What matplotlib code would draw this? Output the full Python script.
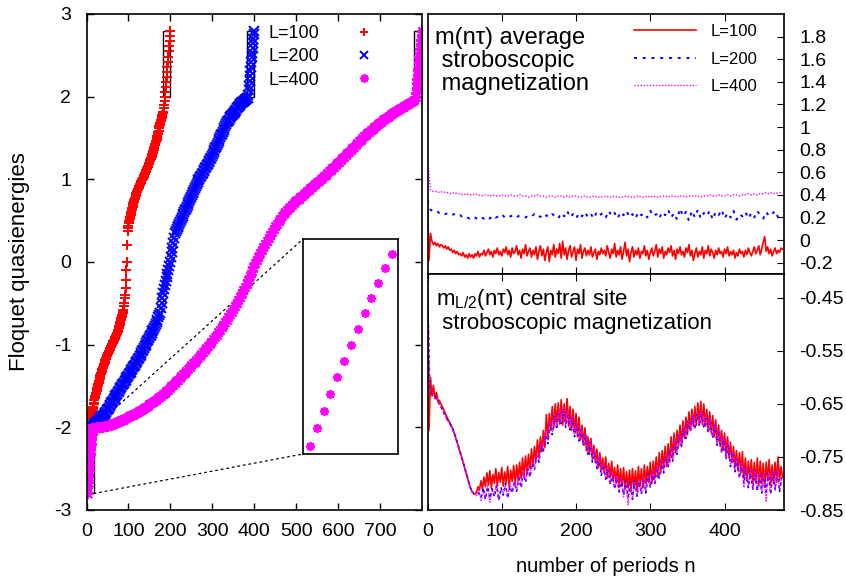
import numpy as np
import matplotlib
matplotlib.use("Agg")
import matplotlib.pyplot as plt
from matplotlib.patches import Rectangle, ConnectionPatch

plt.rcParams['font.family'] = ['Liberation Sans', 'DejaVu Sans']
plt.rcParams['mathtext.fontset'] = 'custom'
plt.rcParams['mathtext.rm'] = 'Liberation Sans'
plt.rcParams['mathtext.it'] = 'Liberation Sans'
plt.rcParams['axes.unicode_minus'] = False

W, H = 846, 579
RED, BLUE, MAGENTA = '#ff0000', '#0000ff', '#ff00ff'

# --- Floquet quasienergies (sorted), split in lower edge block, bulk, upper edge block
# L=100: 200 levels, bulk every level
q100_low = [-2.80, -2.69, -2.58, -2.47, -2.36, -2.25, -2.14, -2.04]
q100_bulk = [
    -1.93, -1.90, -1.88, -1.85, -1.83, -1.80, -1.78, -1.75, -1.72, -1.70, -1.67, -1.64,
    -1.62, -1.60, -1.58, -1.56, -1.54, -1.52, -1.50, -1.48, -1.46, -1.44, -1.41, -1.39,
    -1.37, -1.36, -1.34, -1.33, -1.31, -1.30, -1.28, -1.27, -1.25, -1.23, -1.22, -1.20,
    -1.19, -1.17, -1.16, -1.14,
    -1.13, -1.12, -1.11, -1.10, -1.09, -1.08, -1.06, -1.05, -1.04, -1.03, -1.02, -1.01,
    -0.99, -0.98, -0.97, -0.96,
    -0.95, -0.94, -0.93, -0.92, -0.91, -0.89, -0.88, -0.87, -0.86, -0.85, -0.83, -0.82,
    -0.80, -0.78, -0.76, -0.74, -0.72, -0.70, -0.68, -0.66, -0.64, -0.62, -0.60, -0.58,
    -0.53, -0.49, -0.44, -0.40, -0.31, -0.22, -0.10, 0.00, 0.20, 0.38,
    0.41, 0.44, 0.47, 0.50, 0.52, 0.55,
    0.57, 0.59, 0.61, 0.63, 0.65, 0.67, 0.69, 0.71,
    0.73, 0.75, 0.76, 0.78, 0.80, 0.81, 0.83, 0.85,
    0.86, 0.87, 0.88, 0.89, 0.91, 0.92, 0.93, 0.94, 0.95, 0.96, 0.98,
    0.99, 1.00, 1.01, 1.02, 1.03, 1.04, 1.05, 1.06, 1.08, 1.09, 1.10, 1.11,
    1.12, 1.14, 1.15, 1.16, 1.18, 1.19, 1.20, 1.22, 1.23, 1.24, 1.26, 1.27,
    1.29, 1.31, 1.32, 1.34, 1.36, 1.38, 1.39, 1.41, 1.43, 1.45, 1.46, 1.48,
    1.50, 1.53, 1.55, 1.57, 1.59, 1.62, 1.64, 1.66,
    1.68, 1.70, 1.72, 1.74, 1.76, 1.78, 1.80, 1.82,
    1.86, 1.90, 1.95]
q100_high = [2.00, 2.06, 2.12, 2.18, 2.24, 2.30, 2.36, 2.42, 2.48, 2.55, 2.61, 2.67, 2.73, 2.79]

# L=200: 400 levels, bulk every 2nd level
q200_low = [-2.80, -2.73, -2.66, -2.59, -2.52, -2.45, -2.38, -2.31, -2.24, -2.17, -2.10, -2.04]
q200_bulk = [
    -2.000, -1.989, -1.978, -1.967, -1.956, -1.945, -1.934, -1.923, -1.912, -1.901,
    -1.890, -1.879, -1.868, -1.857, -1.846, -1.835, -1.825, -1.812, -1.795, -1.778,
    -1.761, -1.744, -1.727, -1.710, -1.693, -1.676, -1.659, -1.642, -1.625, -1.608,
    -1.591, -1.575, -1.558, -1.542, -1.525, -1.508, -1.492, -1.475, -1.458, -1.442,
    -1.425, -1.408, -1.392, -1.375, -1.358, -1.342, -1.325, -1.308, -1.292, -1.275,
    -1.258, -1.242, -1.225, -1.208, -1.192, -1.175, -1.158, -1.140, -1.120, -1.100,
    -1.080, -1.060, -1.040, -1.020, -1.000, -0.980, -0.960, -0.940, -0.920, -0.900,
    -0.880, -0.860, -0.840, -0.820, -0.797, -0.772, -0.746, -0.721, -0.696, -0.670,
    -0.645, -0.620, -0.560, -0.500, -0.440, -0.380, -0.327, -0.280, -0.234, -0.187,
    -0.140, -0.093, -0.047, 0.000, 0.058, 0.117, 0.175, 0.233, 0.292, 0.350,
    0.373, 0.396, 0.419, 0.441, 0.464, 0.487, 0.510, 0.533, 0.556, 0.578,
    0.601, 0.624, 0.647, 0.670, 0.692, 0.715, 0.738, 0.761, 0.784, 0.807,
    0.829, 0.852, 0.875, 0.898, 0.921, 0.943, 0.966, 0.989, 1.009, 1.027,
    1.045, 1.062, 1.080, 1.098, 1.116, 1.133, 1.151, 1.169, 1.187, 1.204,
    1.222, 1.240, 1.262, 1.285, 1.307, 1.330, 1.352, 1.374, 1.397, 1.419,
    1.442, 1.464, 1.486, 1.509, 1.531, 1.554, 1.576, 1.598, 1.621, 1.643,
    1.666, 1.688, 1.710, 1.723, 1.737, 1.750, 1.763, 1.777, 1.790, 1.803,
    1.817, 1.830, 1.843, 1.857, 1.870, 1.883, 1.897, 1.910, 1.923, 1.932,
    1.940, 1.948, 1.956, 1.964, 1.972, 1.980, 1.988]
q200_high = [2.02, 2.08, 2.13, 2.19, 2.25, 2.31, 2.36, 2.42, 2.48, 2.53, 2.59, 2.65, 2.70, 2.76, 2.80]

# L=400: 800 levels, bulk every 4th level
q400_low = [-2.800, -2.727, -2.658, -2.589, -2.520, -2.455, -2.390,
            -2.325, -2.260, -2.199, -2.138, -2.077, -2.020]
q400_bulk = [
    -2.010, -2.007, -2.004, -2.001, -1.999, -1.996, -1.992, -1.988, -1.984, -1.979,
    -1.973, -1.967, -1.960, -1.953, -1.945, -1.936, -1.927, -1.917, -1.907, -1.896,
    -1.885, -1.875, -1.865, -1.855, -1.845, -1.834, -1.823, -1.811, -1.798, -1.786,
    -1.774, -1.762, -1.749, -1.736, -1.723, -1.709, -1.694, -1.679, -1.664, -1.648,
    -1.632, -1.615, -1.598, -1.581, -1.563, -1.544, -1.525, -1.505, -1.485, -1.465,
    -1.444, -1.424, -1.403, -1.381, -1.360, -1.339, -1.317, -1.295, -1.272, -1.250,
    -1.227, -1.205, -1.182, -1.158, -1.135, -1.112, -1.088, -1.064, -1.040, -1.015,
    -0.990, -0.964, -0.937, -0.909, -0.880, -0.850, -0.820, -0.790, -0.760, -0.729,
    -0.698, -0.667, -0.635, -0.603, -0.570, -0.533, -0.496, -0.459, -0.420, -0.380,
    -0.340, -0.300, -0.261, -0.219, -0.166, -0.114, -0.063, -0.017, 0.028, 0.066,
    0.104, 0.141, 0.180, 0.220, 0.258, 0.295, 0.329, 0.364, 0.398, 0.431,
    0.462, 0.494, 0.525, 0.554, 0.581, 0.604, 0.627, 0.649, 0.671, 0.693,
    0.712, 0.732, 0.750, 0.768, 0.786, 0.803, 0.820, 0.838, 0.855, 0.873,
    0.891, 0.909, 0.928, 0.946, 0.964, 0.983, 1.001, 1.019, 1.038, 1.058,
    1.077, 1.096, 1.115, 1.135, 1.155, 1.175, 1.195, 1.215, 1.235, 1.255,
    1.275, 1.295, 1.315, 1.335, 1.355, 1.376, 1.397, 1.418, 1.439, 1.460,
    1.480, 1.500, 1.520, 1.540, 1.559, 1.577, 1.595, 1.613, 1.631, 1.648,
    1.664, 1.681, 1.698, 1.713, 1.728, 1.743, 1.757, 1.772, 1.786, 1.800,
    1.814, 1.827, 1.840, 1.853, 1.866, 1.879, 1.891, 1.902, 1.914, 1.925,
    1.936, 1.948, 1.959]
q400_high = [2.00, 2.05, 2.10, 2.16, 2.21, 2.26, 2.32, 2.37,
             2.42, 2.48, 2.53, 2.58, 2.64, 2.69, 2.74, 2.80]

# --- average stroboscopic magnetization m(n tau)
avg_L100 = [  # every 2nd period
    0.35, -0.18, 0.06, -0.01, -0.04, -0.02, -0.05, -0.03, -0.06, -0.04,
    -0.05, -0.07, -0.05, -0.08, -0.06, -0.09, -0.08, -0.11, -0.09, -0.12,
    -0.10, -0.13, -0.12, -0.14, -0.11, -0.15, -0.13, -0.16, -0.12, -0.15,
    -0.13, -0.16, -0.12, -0.14, -0.10, -0.15, -0.12, -0.13, -0.09, -0.14,
    -0.11, -0.08, -0.13, -0.10, -0.15, -0.09, -0.12, -0.07, -0.13, -0.10,
    -0.14, -0.08, -0.11, -0.06, -0.13, -0.09, -0.15, -0.07, -0.12, -0.10,
    -0.05, -0.13, -0.09, -0.16, -0.08, -0.12, -0.04, -0.14, -0.10, -0.07,
    -0.15, -0.09, -0.13, -0.06, -0.17, -0.10, -0.05, -0.14, -0.08, -0.18,
    -0.11, -0.06, -0.19, -0.09, -0.13, -0.04, -0.15, -0.08, -0.12, -0.03,
    -0.16, -0.01, -0.13, -0.07, -0.17, -0.09, -0.05, -0.15, -0.10, -0.06,
    -0.18, -0.08, -0.12, -0.04, -0.16, -0.10, -0.07, -0.14, -0.09, -0.13,
    -0.06, -0.15, -0.11, -0.08, -0.17, -0.10, -0.13, -0.07, -0.12, -0.09,
    -0.14, -0.05, -0.11, -0.16, -0.08, -0.12, -0.03, -0.15, -0.09, -0.13,
    -0.06, -0.17, -0.10, -0.02, -0.14, -0.08, -0.19, -0.11, -0.06, -0.15,
    -0.09, -0.13, -0.07, -0.16, -0.10, -0.12, -0.05, -0.14, -0.09, -0.17,
    -0.11, -0.07, -0.14, -0.10, -0.04, -0.15, -0.08, -0.12, -0.06, -0.16,
    -0.10, -0.13, -0.07, -0.11, -0.05, -0.14, -0.09, -0.17, -0.08, -0.12,
    -0.06, -0.13, -0.10, -0.15, -0.07, -0.11, -0.04, -0.14, -0.09, -0.18,
    -0.12, -0.07, -0.15, -0.10, -0.13, -0.06, -0.16, -0.09, -0.12, -0.05,
    -0.14, -0.08, -0.11, -0.16, -0.09, -0.13, -0.07, -0.12, -0.10, -0.15,
    -0.08, -0.12, -0.06, -0.14, -0.10, -0.13, -0.09, -0.16, -0.11, -0.14,
    -0.08, -0.12, -0.10, -0.15, -0.09, -0.13, -0.07, -0.11, -0.14, -0.10,
    -0.06, -0.12, -0.09, -0.05, -0.13, -0.08, -0.02, 0.03, -0.10, -0.06,
    -0.12, -0.08, -0.14, -0.10, -0.07, -0.12, -0.09, -0.11, -0.07, -0.08]
avg_L200 = [  # every 4th period
    0.35, 0.27, 0.25, 0.26, 0.24, 0.25, 0.23, 0.24, 0.22, 0.23,
    0.21, 0.22, 0.20, 0.21, 0.19, 0.21, 0.20, 0.18, 0.20, 0.19,
    0.21, 0.19, 0.22, 0.20, 0.21, 0.23, 0.20, 0.22, 0.21, 0.22,
    0.20, 0.22, 0.21, 0.20, 0.22, 0.21, 0.23, 0.20, 0.21, 0.19,
    0.22, 0.20, 0.23, 0.21, 0.19, 0.24, 0.21, 0.26, 0.20, 0.23,
    0.19, 0.24, 0.21, 0.25, 0.20, 0.23, 0.19, 0.25, 0.22, 0.24,
    0.20, 0.26, 0.21, 0.24, 0.19, 0.25, 0.22, 0.26, 0.20, 0.23,
    0.19, 0.25, 0.22, 0.24, 0.20, 0.26, 0.21, 0.23, 0.19, 0.25,
    0.22, 0.27, 0.20, 0.24, 0.18, 0.28, 0.21, 0.25, 0.17, 0.26,
    0.20, 0.27, 0.19, 0.24, 0.21, 0.26, 0.18, 0.25, 0.22, 0.27,
    0.19, 0.24, 0.20, 0.26, 0.18, 0.23, 0.21, 0.25, 0.19, 0.24,
    0.20, 0.26, 0.22, 0.19, 0.25, 0.21, 0.23, 0.26, 0.20, 0.22]
avg_L400 = [  # every 4th period
    0.72, 0.44, 0.43, 0.43, 0.42, 0.43, 0.42, 0.42, 0.41, 0.42,
    0.41, 0.41, 0.40, 0.41, 0.40, 0.40, 0.41, 0.40, 0.39, 0.40,
    0.40, 0.39, 0.40, 0.39, 0.39, 0.40, 0.39, 0.39, 0.40, 0.39,
    0.39, 0.40, 0.39, 0.39, 0.38, 0.39, 0.39, 0.40, 0.39, 0.39,
    0.38, 0.39, 0.39, 0.38, 0.39, 0.39, 0.38, 0.39, 0.38, 0.39,
    0.39, 0.38, 0.38, 0.39, 0.38, 0.38, 0.39, 0.38, 0.38, 0.38,
    0.39, 0.38, 0.38, 0.39, 0.38, 0.38, 0.38, 0.39, 0.38, 0.38,
    0.38, 0.39, 0.38, 0.38, 0.39, 0.38, 0.39, 0.38, 0.38, 0.39,
    0.39, 0.38, 0.39, 0.39, 0.38, 0.39, 0.39, 0.38, 0.39, 0.39,
    0.39, 0.39, 0.38, 0.39, 0.39, 0.40, 0.39, 0.39, 0.40, 0.39,
    0.39, 0.40, 0.39, 0.40, 0.40, 0.39, 0.40, 0.40, 0.41, 0.40,
    0.41, 0.40, 0.41, 0.41, 0.42, 0.41, 0.42, 0.41, 0.42, 0.42]

# --- central site stroboscopic magnetization m_{L/2}(n tau)
mid_L100 = [  # every 2nd period
    -0.420, -0.700, -0.600, -0.635, -0.615, -0.640, -0.628, -0.645, -0.643, -0.650,
    -0.655, -0.662, -0.668, -0.674, -0.680, -0.686, -0.691, -0.697, -0.705, -0.714,
    -0.723, -0.732, -0.741, -0.750, -0.760, -0.770, -0.780, -0.790, -0.800, -0.809,
    -0.815, -0.819, -0.820, -0.816, -0.806, -0.812, -0.795, -0.810, -0.788, -0.806,
    -0.780, -0.803, -0.776, -0.809, -0.783, -0.800, -0.772, -0.806, -0.779, -0.798,
    -0.770, -0.805, -0.778, -0.799, -0.768, -0.807, -0.775, -0.796, -0.766, -0.801,
    -0.765, -0.795, -0.760, -0.790, -0.752, -0.787, -0.748, -0.780, -0.745, -0.772,
    -0.735, -0.768, -0.730, -0.757, -0.718, -0.750, -0.712, -0.740, -0.700, -0.732,
    -0.670, -0.715, -0.668, -0.700, -0.655, -0.695, -0.650, -0.690, -0.648, -0.688,
    -0.642, -0.690, -0.650, -0.685, -0.640, -0.692, -0.655, -0.700, -0.660, -0.705,
    -0.668, -0.712, -0.675, -0.718, -0.690, -0.728, -0.695, -0.738, -0.712, -0.745,
    -0.715, -0.752, -0.728, -0.760, -0.735, -0.770, -0.742, -0.775, -0.752, -0.780,
    -0.750, -0.790, -0.762, -0.788, -0.758, -0.796, -0.770, -0.800, -0.765, -0.805,
    -0.772, -0.806, -0.770, -0.812, -0.778, -0.808, -0.775, -0.815, -0.772, -0.810,
    -0.776, -0.812, -0.768, -0.806, -0.772, -0.808, -0.765, -0.800, -0.768, -0.798,
    -0.760, -0.800, -0.758, -0.790, -0.750, -0.788, -0.742, -0.780, -0.738, -0.770,
    -0.730, -0.768, -0.725, -0.760, -0.712, -0.752, -0.705, -0.742, -0.700, -0.730,
    -0.690, -0.728, -0.682, -0.715, -0.675, -0.708, -0.665, -0.700, -0.660, -0.692,
    -0.655, -0.690, -0.648, -0.685, -0.645, -0.688, -0.650, -0.692, -0.660, -0.700,
    -0.665, -0.705, -0.672, -0.712, -0.680, -0.722, -0.690, -0.730, -0.700, -0.738,
    -0.705, -0.745, -0.712, -0.752, -0.722, -0.760, -0.730, -0.768, -0.738, -0.775,
    -0.742, -0.780, -0.740, -0.790, -0.752, -0.795, -0.758, -0.792, -0.755, -0.800,
    -0.760, -0.798, -0.752, -0.805, -0.758, -0.800, -0.762, -0.808, -0.760, -0.795,
    -0.755, -0.802, -0.765, -0.800, -0.760, -0.798, -0.750, -0.795, -0.768, -0.788]
mid_L200 = [  # every 3rd period
    -0.420, -0.620, -0.630, -0.632, -0.640, -0.648, -0.655, -0.664, -0.672, -0.681,
    -0.686, -0.694, -0.705, -0.718, -0.732, -0.746, -0.760, -0.775, -0.790, -0.805,
    -0.815, -0.820, -0.821, -0.818, -0.826, -0.808, -0.830, -0.806, -0.828, -0.810,
    -0.825, -0.804, -0.832, -0.808, -0.822, -0.800, -0.828, -0.806, -0.818, -0.798,
    -0.815, -0.790, -0.808, -0.780, -0.798, -0.772, -0.788, -0.762, -0.774, -0.748,
    -0.760, -0.730, -0.740, -0.708, -0.725, -0.688, -0.708, -0.672, -0.698, -0.665,
    -0.690, -0.660, -0.694, -0.668, -0.702, -0.675, -0.712, -0.688, -0.720, -0.698,
    -0.730, -0.708, -0.745, -0.722, -0.760, -0.738, -0.772, -0.752, -0.785, -0.765,
    -0.792, -0.772, -0.802, -0.782, -0.810, -0.788, -0.816, -0.792, -0.822, -0.795,
    -0.826, -0.798, -0.830, -0.792, -0.824, -0.796, -0.820, -0.790, -0.818, -0.782,
    -0.808, -0.778, -0.800, -0.770, -0.790, -0.758, -0.780, -0.748, -0.770, -0.735,
    -0.758, -0.722, -0.745, -0.708, -0.730, -0.695, -0.715, -0.682, -0.702, -0.672,
    -0.698, -0.668, -0.692, -0.665, -0.696, -0.672, -0.705, -0.680, -0.715, -0.690,
    -0.728, -0.700, -0.742, -0.712, -0.755, -0.725, -0.768, -0.740, -0.778, -0.752,
    -0.790, -0.762, -0.800, -0.770, -0.808, -0.775, -0.812, -0.778, -0.815, -0.780,
    -0.818, -0.782, -0.816, -0.780, -0.820, -0.778, -0.812, -0.776, -0.815, -0.790]
mid_L400 = [  # every 3rd period
    -0.420, -0.625, -0.628, -0.636, -0.641, -0.648, -0.656, -0.665, -0.673, -0.682,
    -0.688, -0.696, -0.707, -0.720, -0.734, -0.748, -0.762, -0.777, -0.792, -0.806,
    -0.816, -0.821, -0.823, -0.812, -0.832, -0.815, -0.826, -0.804, -0.835, -0.812,
    -0.820, -0.800, -0.830, -0.812, -0.818, -0.803, -0.825, -0.800, -0.815, -0.795,
    -0.812, -0.785, -0.805, -0.776, -0.795, -0.768, -0.785, -0.758, -0.771, -0.745,
    -0.755, -0.725, -0.735, -0.700, -0.718, -0.682, -0.702, -0.668, -0.692, -0.662,
    -0.686, -0.655, -0.690, -0.662, -0.698, -0.672, -0.708, -0.685, -0.718, -0.695,
    -0.728, -0.705, -0.742, -0.718, -0.756, -0.735, -0.770, -0.748, -0.782, -0.762,
    -0.790, -0.768, -0.800, -0.778, -0.808, -0.785, -0.815, -0.790, -0.825, -0.798,
    -0.840, -0.800, -0.828, -0.796, -0.822, -0.792, -0.818, -0.788, -0.815, -0.785,
    -0.805, -0.775, -0.798, -0.765, -0.786, -0.755, -0.776, -0.745, -0.766, -0.732,
    -0.755, -0.718, -0.742, -0.705, -0.726, -0.692, -0.712, -0.680, -0.700, -0.670,
    -0.695, -0.665, -0.690, -0.662, -0.692, -0.670, -0.702, -0.678, -0.712, -0.688,
    -0.725, -0.698, -0.738, -0.710, -0.752, -0.722, -0.765, -0.738, -0.775, -0.750,
    -0.788, -0.760, -0.808, -0.768, -0.805, -0.772, -0.810, -0.776, -0.812, -0.778,
    -0.815, -0.780, -0.835, -0.778, -0.818, -0.776, -0.810, -0.775, -0.812, -0.788]

avg_ticks = [-0.2, 0, 0.2, 0.4, 0.6, 0.8, 1, 1.2, 1.4, 1.6, 1.8]
mid_ticks = [-0.85, -0.75, -0.65, -0.55, -0.45]

# boxes around the edge levels, and the zoomed lower-left block
edge_width = 18
edge_low = (-2.8, -2.0)
edge_high = (2.0, 2.8)


def px_rect(left, top, right, bottom):
    """Figure-fraction rectangle from pixel edges measured from the top-left."""
    return [left / W, 1 - bottom / H, (right - left) / W, (bottom - top) / H]


def level_index(n_levels, low, bulk, high, step):
    """Level numbers for the edge blocks and the sampled bulk of a spectrum."""
    x_low = np.arange(1, len(low) + 1)
    x_bulk = len(low) + 1 + step * np.arange(len(bulk))
    x_high = np.arange(n_levels - len(high) + 1, n_levels + 1)
    return np.concatenate([x_low, x_bulk, x_high]), np.concatenate([low, bulk, high])


def frame(ax):
    for s in ax.spines.values():
        s.set_linewidth(1.2)


fig = plt.figure(figsize=(W / 100, H / 100), dpi=100)
ax_q = fig.add_axes(px_rect(86.5, 14, 422, 510))
ax_avg = fig.add_axes(px_rect(427.5, 14, 784, 274))
ax_mid = fig.add_axes(px_rect(427.5, 274, 784, 510))
ax_in = fig.add_axes(px_rect(303, 239, 398, 454))

# ---------------- quasienergy spectra
spectra = [
    (200, q100_low, q100_bulk, q100_high, 1, RED, '+', 7.0, 'L=100'),
    (400, q200_low, q200_bulk, q200_high, 2, BLUE, 'x', 7.0, 'L=200'),
    (800, q400_low, q400_bulk, q400_high, 4, MAGENTA, (8, 2, 0), 8.0, 'L=400'),
]
handles = []
for n_levels, low, bulk, high, step, color, marker, ms, label in spectra:
    x, y = level_index(n_levels, low, bulk, high, step)
    h, = ax_q.plot(x, y, ls='none', marker=marker, ms=ms, mew=1.4, color=color, label=label)
    handles.append(h)
    ax_q.add_patch(Rectangle((n_levels - edge_width, edge_high[0]), edge_width,
                             edge_high[1] - edge_high[0], fill=False, ec='black', lw=1.0))

ax_q.add_patch(Rectangle((0, edge_low[0]), edge_width, edge_low[1] - edge_low[0],
                         fill=False, ec='black', lw=1.0))

ax_q.set_xlim(0, 800)
ax_q.set_ylim(-3, 3)
ax_q.set_xticks(range(0, 701, 100))
ax_q.set_yticks(range(-3, 4))
ax_q.tick_params(direction='in', length=5, width=1, top=True, right=True, labelsize=14)
ax_q.tick_params(axis='y', pad=11)
ax_q.tick_params(axis='x', pad=9)
frame(ax_q)
leg = ax_q.legend(handles=handles, loc='upper left', bbox_to_anchor=(268 / W, 1 - 25 / H),
                  bbox_transform=fig.transFigure, frameon=False, markerfirst=False,
                  fontsize=13, handlelength=3.0, handletextpad=1.0, labelspacing=0.35,
                  borderpad=0, borderaxespad=0, markerscale=0.75)

# zoom on the lowest L=400 levels
ax_in.plot(np.arange(1, len(q400_low) + 1), q400_low, ls='none', marker=(8, 2, 0),
           ms=6.5, mew=1.3, color=MAGENTA)
ax_in.set_xlim(0, 13.9)
ax_in.set_ylim(-2.8325, -1.959)
ax_in.set_xticks([])
ax_in.set_yticks([])
frame(ax_in)
for y_corner, inset_corner in [(edge_low[1], (0, 1)), (edge_low[0], (0, 0))]:
    con = ConnectionPatch(xyA=(edge_width, y_corner), coordsA='data', axesA=ax_q,
                          xyB=inset_corner, coordsB='axes fraction', axesB=ax_in,
                          color='black', lw=0.9, ls=(0, (1.5, 3)), zorder=1)
    ax_q.add_artist(con)

fig.text(20 / W, 1 - 262 / H, 'Floquet quasienergies', rotation=90,
         ha='center', va='center', fontsize=16)

# ---------------- average magnetization
avg_lines = [
    (avg_L100, 2, RED, '-', 1.2, 'L=100'),
    (avg_L200, 4, BLUE, (0, (1.5, 3)), 1.4, 'L=200'),
    (avg_L400, 4, MAGENTA, (0, (1, 1.2)), 1.0, 'L=400'),
]
for vals, step, color, ls, lw, label in avg_lines:
    n = step * np.arange(len(vals))
    ax_avg.plot(n, vals, color=color, ls=ls, lw=lw, label=label)

ax_avg.set_xlim(0, 480)
ax_avg.set_ylim(-0.3, 2.0)
ax_avg.set_xticks([100, 200, 300, 400])
ax_avg.set_yticks(avg_ticks)
ax_avg.set_yticklabels([f'{t:g}' for t in avg_ticks])
ax_avg.tick_params(axis='x', direction='in', length=5, top=True, bottom=True, labelbottom=False)
ax_avg.tick_params(axis='y', direction='in', length=5, left=False, right=True,
                   labelleft=False, labelright=True, labelsize=14, pad=11)
frame(ax_avg)
ax_avg.legend(loc='upper left', bbox_to_anchor=(634 / W, 1 - 24 / H),
              bbox_transform=fig.transFigure, frameon=False, fontsize=12,
              handlelength=3.7, handletextpad=0.9, labelspacing=0.75,
              borderpad=0, borderaxespad=0)
fig.text(435 / W, 1 - 61 / H, 'm(nτ) average\n stroboscopic\n magnetization',
         ha='left', va='center', fontsize=17, linespacing=1.05)

# ---------------- central site magnetization
mid_lines = [
    (mid_L100, 2, RED, '-', 1.2),
    (mid_L200, 3, BLUE, (0, (2, 2)), 1.1),
    (mid_L400, 3, MAGENTA, (0, (1, 1)), 1.0),
]
for vals, step, color, ls, lw in mid_lines:
    n = step * np.arange(len(vals))
    ax_mid.plot(n, vals, color=color, ls=ls, lw=lw)

ax_mid.set_xlim(0, 480)
ax_mid.set_ylim(-0.85, -0.405)
ax_mid.set_xticks([0, 100, 200, 300, 400])
ax_mid.set_yticks(mid_ticks)
ax_mid.set_yticklabels([f'{t:g}' for t in mid_ticks])
ax_mid.tick_params(axis='x', direction='in', length=5, top=True, bottom=True,
                   labelsize=14, pad=9)
ax_mid.tick_params(axis='y', direction='in', length=5, left=False, right=True,
                   labelleft=False, labelright=True, labelsize=14, pad=11)
frame(ax_mid)
fig.text(436 / W, 1 - 300 / H, 'm$_{\\mathrm{L/2}}$(nτ) central site',
         ha='left', va='center', fontsize=16)
fig.text(436 / W, 1 - 323 / H, ' stroboscopic magnetization',
         ha='left', va='center', fontsize=16)

fig.text(606 / W, 1 - 567 / H, 'number of periods n', ha='center', va='center', fontsize=14.5)

fig.savefig('out.png', dpi=100)
